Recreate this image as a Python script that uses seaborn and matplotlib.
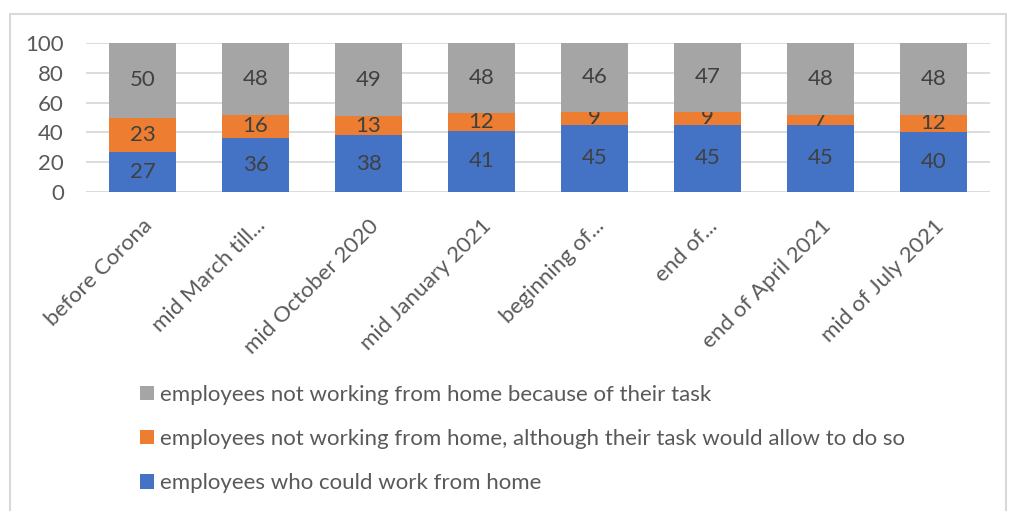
import matplotlib
matplotlib.use("Agg")
from matplotlib import pyplot as plt
from matplotlib.patches import Rectangle
import pandas as pd
import seaborn as sns

# data
periods = ["before Corona", "mid March till...", "mid October 2020", "mid January 2021",
           "beginning of...", "end of...", "end of April 2021", "mid of July 2021"]
could_work_home = [27, 36, 38, 41, 45, 45, 45, 40]
not_home_although = [23, 16, 13, 12, 9, 9, 7, 12]
not_home_task = [50, 48, 49, 48, 46, 47, 48, 48]

series_names = ["employees who could work from home",
                "employees not working from home, although their task would allow to do so",
                "employees not working from home because of their task"]
colors = ["#4472c4", "#ed7d31", "#a5a5a5"]

# **************************************************************************

sns.set_style("white")
plt.rcParams["font.family"] = ["Lato", "DejaVu Sans"]
text_col = "#595959"
fs = 16

df = pd.DataFrame({"period": periods,
                   "blue": could_work_home,
                   "orange": not_home_although,
                   "gray": not_home_task})

fig = plt.figure(figsize=(10.1, 5.11), dpi=100)
ax = fig.add_axes([86 / 1010, 1 - 192 / 511, 904 / 1010, 149 / 511])

bottoms = [0] * len(periods)
handles = []
for col, name, c in zip(["blue", "orange", "gray"], series_names, colors):
    sns.barplot(data=df, x="period", y=col, color=c, width=0.59, bottom=bottoms,
                ax=ax, label=name, saturation=1, edgecolor="none", zorder=3)
    cont = ax.containers[-1]
    handles.append(cont)
    ax.bar_label(cont, labels=[str(v) for v in df[col]], label_type="center",
                 color="#404040", fontsize=fs)
    bottoms = [b + v for b, v in zip(bottoms, df[col])]

ax.set_ylim(0, 100)
ax.set_xlim(-0.5, len(periods) - 0.5)
ax.set_yticks(range(0, 101, 20))
ax.yaxis.grid(True, color="#d9d9d9", linewidth=1.3, zorder=0)
ax.set_axisbelow(True)
for s in ax.spines.values():
    s.set_visible(False)
ax.set_xlabel("")
ax.set_ylabel("")
ax.tick_params(axis="both", length=0, colors=text_col, labelsize=fs)
ax.tick_params(axis="y", pad=16)
ax.tick_params(axis="x", pad=17)
plt.setp(ax.get_xticklabels(), rotation=45, ha="right", rotation_mode="anchor")
if ax.get_legend() is not None:
    ax.get_legend().remove()

fig.legend(handles[::-1], series_names[::-1], loc="center left",
           bbox_to_anchor=(120 / 1010, 1 - 439 / 511), frameon=False,
           handlelength=0.62, handleheight=0.62, handletextpad=0.3,
           labelspacing=1.1, fontsize=fs, labelcolor=text_col)

# chart frame
fig.patches.append(Rectangle((10 / 1010, -0.02), 996 / 1010, 1 - 14 / 511 + 0.02,
                             transform=fig.transFigure, fill=False,
                             edgecolor="#d9d9d9", linewidth=1.5))

fig.savefig("out.png", dpi=100, facecolor="white")
